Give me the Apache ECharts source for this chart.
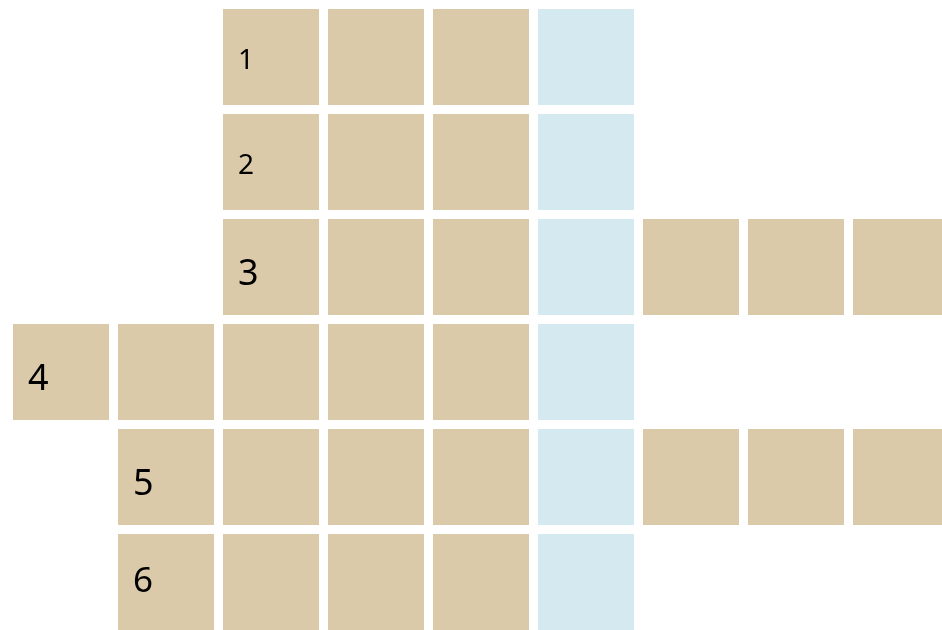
<!DOCTYPE html>
<html>
<head>
<meta charset="utf-8">
<script src="https://cdn.jsdelivr.net/npm/echarts@6/dist/echarts.min.js"></script>
<style>
  html, body { margin: 0; padding: 0; background: #fff; overflow: hidden; }
  #chart { width: 960px; height: 640px; }
</style>
</head>
<body>
<div id="chart"></div>
<script>
// grid layout: '#' = answer cell (tan), '+' = highlighted column (blue), '.' = empty
const columns = ['0', '1', '2', '3', '4', '5', '6', '7', '8']
const rows = ['0', '1', '2', '3', '4', '5']
const layout = [
  '..###+...',
  '..###+...',
  '..###+###',
  '#####+...',
  '.####+###',
  '.####+...'
]
const clueNumbers = ['1', '2', '3', '4', '5', '6']
const clueCells = [[2, 0], [2, 1], [2, 2], [0, 3], [1, 4], [1, 5]]

const TAN = '#dbcaa9'
const BLUE = '#d5eaf0'
const GAP = 9

// old-style figures look: 1,2 small; 3,4,5 drop below; 6 tall
const digitStyle = {
  '1': { size: 28, dy: 52 },
  '2': { size: 28, dy: 52 },
  '3': { size: 36, dy: 55.5 },
  '4': { size: 36, dy: 55.5 },
  '5': { size: 36, dy: 55.5 },
  '6': { size: 35, dy: 48 }
}

let cells = []
layout.forEach(function (line, r) {
  line.split('').forEach(function (ch, c) {
    if (ch === '.') return
    let idx = clueCells.findIndex(function (p) { return p[0] === c && p[1] === r })
    cells.push([c, r, ch === '+' ? 1 : 0, idx >= 0 ? clueNumbers[idx] : ''])
  })
})

let chart = echarts.init(document.getElementById('chart'))
chart.setOption({
  animation: false,
  grid: { left: 8.5, top: 4.5, width: 945, height: 630 },
  xAxis: { type: 'category', data: columns, show: false },
  yAxis: { type: 'category', data: rows, inverse: true, show: false },
  series: [{
    type: 'custom',
    data: cells,
    renderItem: function (params, api) {
      let center = api.coord([api.value(0), api.value(1)])
      let size = api.size([1, 1])
      let w = size[0] - GAP
      let h = size[1] - GAP
      let x0 = center[0] - w / 2
      let y0 = center[1] - h / 2
      let children = [{
        type: 'rect',
        shape: { x: x0, y: y0, width: w, height: h },
        style: { fill: api.value(2) === 1 ? BLUE : TAN }
      }]
      let label = cells[params.dataIndex][3]
      if (label) {
        let st = digitStyle[label]
        children.push({
          type: 'text',
          style: {
            text: label,
            x: x0 + 15,
            y: y0 + st.dy,
            fontSize: st.size,
            fontFamily: 'Noto Sans',
            fill: '#000',
            align: 'left',
            verticalAlign: 'middle'
          }
        })
      }
      return { type: 'group', children: children }
    }
  }]
})
</script>
</body>
</html>
